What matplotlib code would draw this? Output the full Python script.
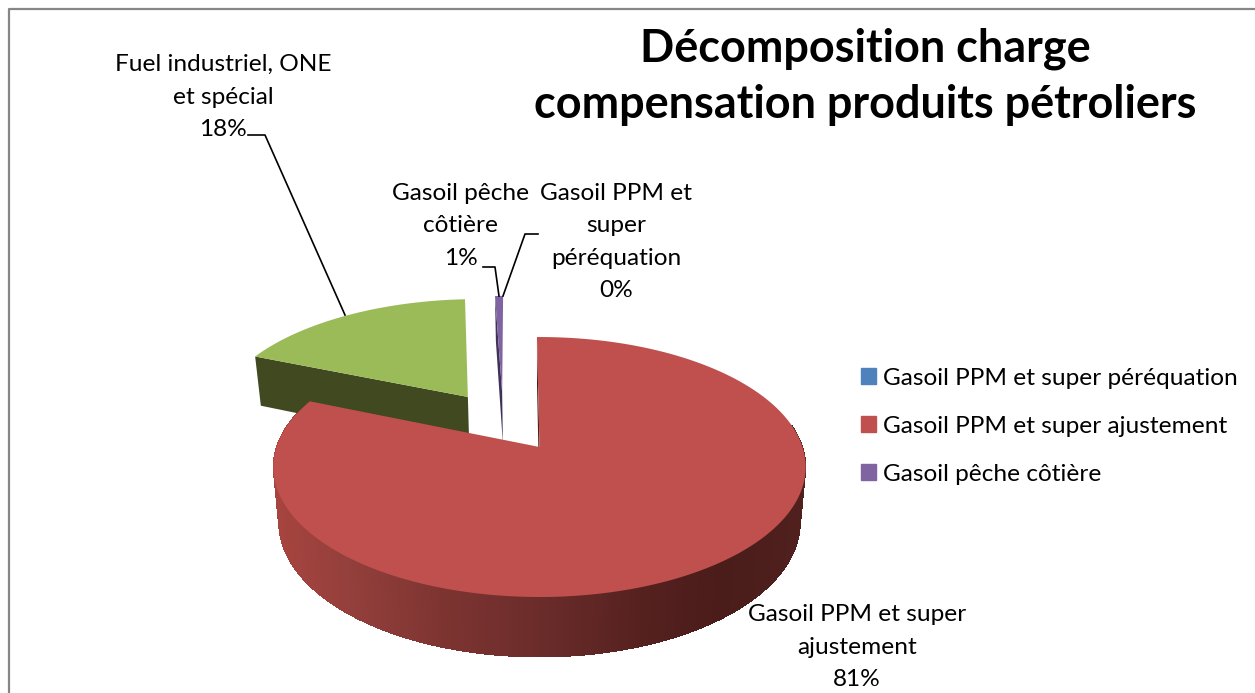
import numpy as np
import matplotlib
matplotlib.use("Agg")
import matplotlib.pyplot as plt
from matplotlib.colors import to_rgb
from matplotlib.patches import Patch

plt.rcParams['font.family'] = ['Lato', 'DejaVu Sans']

# data, in percent
categories = ['Gasoil PPM et super péréquation', 'Gasoil PPM et super ajustement',
              'Fuel industriel, ONE et spécial', 'Gasoil pêche côtière']
values = [0.1, 81.4, 17.9, 0.6]
pct_labels = ['0%', '81%', '18%', '1%']
legend_names = categories[:2] + categories[3:]

title = 'Décomposition charge\ncompensation produits pétroliers'

BLUE, RED, GREEN, PURPLE = '#4f81bd', '#c0504d', '#9bbb59', '#8064a2'
GREEN_DARK = '#40491f'
PURPLE_DARK = '#3f3158'
TEXT_FS = 17.6

# pie placement in pixels, the slices are exploded by hand (disk units)
CX, CY = 539.5, 447.0
A, B, K = 263.0, 126.9, 0.154
FIRST_ANGLE = -1.0
explode = {'Fuel industriel, ONE et spécial': (-0.29, 0.42),
           'Gasoil pêche côtière': (-0.152, 0.458)}


def project(u, v, low=False):
    # perspective view of the disk, low=True gives the bottom face
    s = 1 + K * v
    x = CX + A * u / s
    y = CY - B * v / s
    if low:
        x = CX + (x - CX) * 0.98
        y = y + 54 - 6 * v
    return x, y


def rim(a1, a2, off=(0, 0), low=False):
    t = np.radians(np.linspace(a1, a2, max(int(abs(a2 - a1) * 2), 2)))
    return project(off[0] + np.sin(t), off[1] + np.cos(t), low)


def sector(a1, a2, off):
    x, y = rim(a1, a2, off)
    tx, ty = project(off[0], off[1])
    return np.r_[tx, x], np.r_[ty, y]


def radial_wall(angle, off):
    t = np.radians(angle)
    x1, y1 = project(off[0] + np.sin(t), off[1] + np.cos(t))
    x2, y2 = project(off[0], off[1])
    x3, y3 = project(off[0], off[1], True)
    x4, y4 = project(off[0] + np.sin(t), off[1] + np.cos(t), True)
    return [x1, x2, x3, x4], [y1, y2, y3, y4]


def wall_color(x):
    stops_x = [270, 340, 440, 540, 640, 720, 810]
    stops = ['#a8443f', '#95403c', '#7d3431', '#6a2c2a', '#55211f', '#4a1c1a', '#50211e']
    rgb = [to_rgb(c) for c in stops]
    return tuple(np.interp(x, stops_x, [c[i] for c in rgb]) for i in range(3))


# slice angles, clockwise from the top
edges = FIRST_ANGLE + np.cumsum([0] + values) * 3.6
ang = {c: (edges[i], edges[i + 1]) for i, c in enumerate(categories)}

fig = plt.figure(figsize=(12.55, 6.93), dpi=100)
ax = fig.add_axes([0, 0, 1, 1])
ax.set_xlim(0, 1255)
ax.set_ylim(693, 0)
ax.axis('off')

# outer chart border, the right and bottom sides are cut off
ax.plot([9, 9, 1255], [693, 9, 9], color='#868686', lw=1.6, zorder=1)

# purple sliver
p1, p2 = ang[categories[3]]
off = explode[categories[3]]
ax.fill(*radial_wall(p1, off), color=PURPLE_DARK, lw=0, zorder=2)
ax.fill(*sector(p1, p2, off), color=PURPLE, lw=0, zorder=3)

# green slice
g1, g2 = ang[categories[2]]
off = explode[categories[2]]
ax.fill(*radial_wall(g1, off), color=GREEN_DARK, lw=0, zorder=2)
ax.fill(*sector(g1, g2, off), color=GREEN, lw=0, zorder=3)

# red slice, outer wall: solid backing then thin strips for the shading
r1, r2 = ang[categories[1]]
xb1, yb1 = rim(80, 285)
xb2, yb2 = rim(80, 285, low=True)
ax.fill(np.r_[xb1, xb2[::-1]], np.r_[yb1, yb2[::-1]], color='#6a2c2a', lw=0, zorder=4)
steps = np.arange(80, 285, 0.5)
for a in steps:
    x1, y1 = rim(a, a + 1.5)
    x2, y2 = rim(a, a + 1.5, low=True)
    ax.fill(np.r_[x1, x2[::-1]], np.r_[y1, y2[::-1]], color=wall_color(x1.mean()), lw=0,
            antialiased=False, zorder=4)
ax.fill(*radial_wall(r1, (0, 0)), color='#4a1c1a', lw=0, zorder=4)
ax.fill(*sector(r1, r2, (0, 0)), color=RED, lw=0, zorder=5)

# leader lines
ax.plot([248, 265, 345], [135, 135, 315], color='black', lw=1.2, zorder=6)
ax.plot([483, 495, 499], [267, 267, 296], color='black', lw=1.2, zorder=6)
ax.plot([538, 525, 503], [234, 234, 296], color='black', lw=1.2, zorder=6)

# data labels
txt = dict(ha='center', va='center', fontsize=TEXT_FS, color='black', linespacing=1.66, zorder=7)
ax.text(223, 97, 'Fuel industriel, ONE\net spécial\n' + pct_labels[2], **txt)
ax.text(461, 226, 'Gasoil pêche\ncôtière\n' + pct_labels[3], **txt)
ax.text(616, 242, 'Gasoil PPM et\nsuper\npéréquation\n' + pct_labels[0], **txt)
ax.text(857, 647, 'Gasoil PPM et super\najustement\n' + pct_labels[1], **txt)

ax.text(865, 77, title, ha='center', va='center', fontsize=32.4, fontweight='bold',
        color='black', linespacing=1.4, zorder=7)

handles = [Patch(color=c) for c in (BLUE, RED, PURPLE)]
ax.legend(handles, legend_names, loc='upper left', bbox_to_anchor=(861 / 1255, 1 - 368 / 693),
          frameon=False, fontsize=TEXT_FS, handlelength=0.62, handleheight=0.62,
          handletextpad=0.27, labelspacing=1.1, borderpad=0, borderaxespad=0)

fig.savefig('out.png', dpi=100, facecolor='white')
